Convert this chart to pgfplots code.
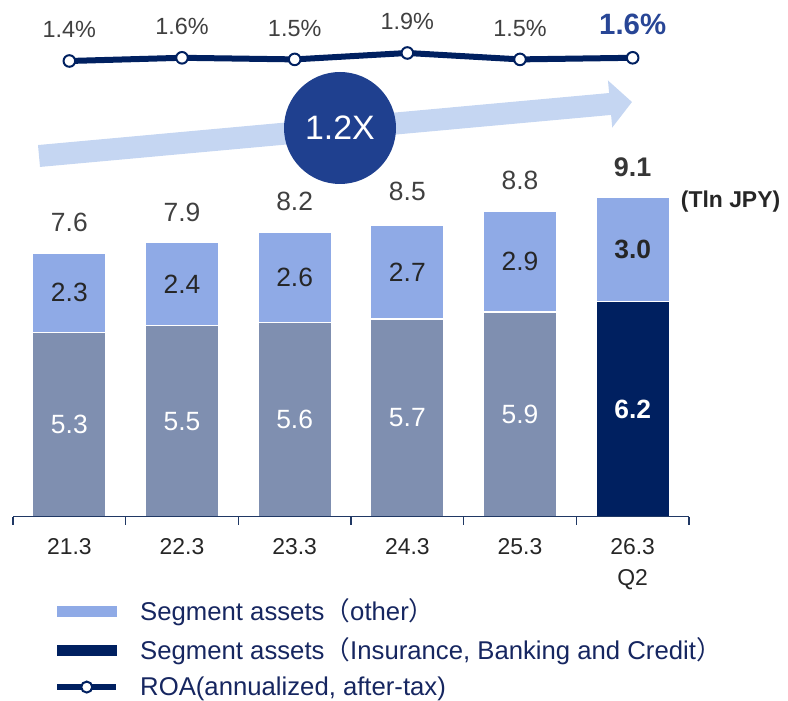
\documentclass[border=0pt]{standalone}
\usepackage{pgfplots}
\pgfplotsset{compat=1.18}
\usepackage{pgfplotstable}
\usepackage{fontspec}
\setmainfont{Liberation Sans}
\newfontfamily\cjk{Noto Sans CJK JP}
\usetikzlibrary{arrows.meta}
\definecolor{barGray}{RGB}{127,143,176}
\definecolor{barLight}{RGB}{143,170,230}
\definecolor{barNavy}{RGB}{0,32,96}
\definecolor{circBlue}{RGB}{31,64,143}
\definecolor{arrowBlue}{RGB}{197,214,242}
\definecolor{txtGray}{RGB}{64,64,64}
\definecolor{tickGray}{RGB}{38,38,38}
\definecolor{legNavy}{RGB}{22,38,96}
\definecolor{roaBlue}{RGB}{40,70,150}
\definecolor{axNavy}{RGB}{32,56,100}
\newcommand\fs[1]{\fontsize{#1}{#1}\selectfont}

\pgfplotstableread{
x gray navy other total
0 5.3 0 2.3 7.6
1 5.5 0 2.4 7.9
2 5.6 0 2.6 8.2
3 5.7 0 2.7 8.5
4 5.9 0 2.9 8.8
5 0 6.2 3.0 9.1
}\assets

\begin{document}
\begin{tikzpicture}
% growth arrow and multiplier badge
\draw[arrowBlue, line width=22bp, -{Triangle[length=22bp, width=46bp]}] (26bp,360.7bp) -- (619bp,414.7bp);
\fill[circBlue] (327bp,388.7bp) circle (56bp);
\node[text=white, font=\fs{34}, inner sep=0pt] at (327bp,388.7bp) {1.2X};

% stacked bars
\begin{axis}[
  at={(0,0)}, anchor=south west,
  scale only axis, width=676bp, height=347bp,
  xmin=-0.5, xmax=5.5, ymin=0, ymax=10,
  ybar stacked, bar width=73.3bp,
  axis on top,
  axis x line=bottom, axis y line=none,
  x axis line style={-, draw=axNavy, line width=1.5bp},
  xtick={0,...,5},
  xticklabels={21.3,22.3,23.3,24.3,25.3,{26.3\\Q2}},
  major tick length=0pt,
  minor xtick={-0.5,0.5,...,5.5},
  minor tick length=8bp,
  tick align=outside,
  minor tick style={draw=axNavy, line width=1.5bp},
  xticklabel style={align=center, font=\fontsize{23}{31}\selectfont, text=tickGray, yshift=-18bp},
  ytick=\empty,
]
\addplot[fill=barGray, draw=white, line width=1.2bp] table[x=x, y=gray] {\assets};
\addplot[fill=barNavy, draw=white, line width=1.2bp] table[x=x, y=navy] {\assets};
\addplot[fill=barLight, draw=white, line width=1.2bp] table[x=x, y=other] {\assets};
\end{axis}

% value labels and legend
\begin{axis}[
  at={(0,0)}, anchor=south west,
  scale only axis, width=676bp, height=347bp,
  xmin=-0.5, xmax=5.5, ymin=0, ymax=10,
  hide axis, clip=false,
  legend style={at={(0.0607,-0.228)}, anchor=north west, draw=none, fill=none,
    font=\fs{25.8}, text=legNavy, row sep=12bp, inner sep=0pt,
    nodes={inner xsep=0pt, inner ysep=2bp}},
  legend cell align=left,
]
\addlegendimage{legend image code/.code={\fill[barLight] (0bp,-6bp) rectangle (59bp,4bp); \path[draw=none, fill=none] (0bp,0bp) rectangle (83bp,0.5bp);}}
\addlegendentry{Segment assets{\cjk （}other{\cjk ）}}
\addlegendimage{legend image code/.code={\fill[barNavy] (0bp,-6bp) rectangle (59bp,4bp); \path[draw=none, fill=none] (0bp,0bp) rectangle (83bp,0.5bp);}}
\addlegendentry{Segment assets{\cjk （}Insurance, Banking and Credit{\cjk ）}}
\addlegendimage{legend image code/.code={\draw[barNavy, line width=6bp] (0bp,0bp) -- (59bp,0bp); \draw[barNavy, fill=white, line width=2bp] (29.5bp,0bp) circle (5.5bp); \path[draw=none, fill=none] (0bp,0bp) rectangle (83bp,0.5bp);}}
\addlegendentry{ROA(annualized, after-tax)}

\addplot[draw=none, nodes near coords, point meta=explicit symbolic,
  skip coords between index={5}{6},
  every node near coord/.append style={anchor=center, text=white, font=\fs{26.5}}]
  table[x=x, y expr=\thisrow{gray}/2, meta=gray] {\assets};
\addplot[draw=none, nodes near coords, point meta=explicit symbolic,
  skip coords between index={0}{5},
  every node near coord/.append style={anchor=center, text=white, font=\fs{26.5}\bfseries}]
  table[x=x, y expr=\thisrow{navy}/2, meta=navy] {\assets};
\addplot[draw=none, nodes near coords, point meta=explicit symbolic,
  skip coords between index={5}{6},
  every node near coord/.append style={anchor=center, text=tickGray, font=\fs{26.5}}]
  table[x=x, y expr=\thisrow{gray}+\thisrow{navy}+\thisrow{other}/2, meta=other] {\assets};
\addplot[draw=none, nodes near coords, point meta=explicit symbolic,
  skip coords between index={0}{5},
  every node near coord/.append style={anchor=center, text=tickGray, font=\fs{26.5}\bfseries}]
  table[x=x, y expr=\thisrow{gray}+\thisrow{navy}+\thisrow{other}/2, meta=other] {\assets};
\addplot[draw=none, nodes near coords, point meta=explicit symbolic,
  skip coords between index={5}{6},
  every node near coord/.append style={anchor=base, yshift=21.5bp, text=txtGray, font=\fs{26.5}}]
  table[x=x, y=total, meta=total] {\assets};
\addplot[draw=none, nodes near coords, point meta=explicit symbolic,
  skip coords between index={0}{5},
  every node near coord/.append style={anchor=base, yshift=24bp, text=txtGray!85!black, font=\fs{27}\bfseries}]
  table[x=x, y=total, meta=total] {\assets};
\end{axis}

% ROA line
\begin{axis}[
  at={(0,455.7bp)}, anchor=south west,
  scale only axis, width=676bp, height=8bp,
  xmin=-0.5, xmax=5.5, ymin=1.4, ymax=1.9,
  hide axis, clip=false,
]
\addplot[barNavy, line width=6bp, mark=*, mark size=5.8bp,
  mark options={fill=white, draw=barNavy, line width=2bp},
  nodes near coords, point meta=explicit symbolic,
  every node near coord/.append style={anchor=base, yshift=23bp, text=txtGray, font=\fs{23.5}}]
  coordinates {(0,1.4)[1.4\%] (1,1.6)[1.6\%] (2,1.5)[1.5\%] (3,1.9)[1.9\%] (4,1.5)[1.5\%]
    (5,1.6)[{\fs{29.5}\bfseries\color{roaBlue}1.6\%}]};
\end{axis}

\node[anchor=base west, inner sep=0pt, font=\fs{23}\bfseries, text=tickGray] at (667.7bp,308.7bp) {(Tln JPY)};

\pgfresetboundingbox
\path[use as bounding box] (-13bp,-184.3bp) rectangle (775bp,516.7bp);
\end{tikzpicture}
\end{document}
